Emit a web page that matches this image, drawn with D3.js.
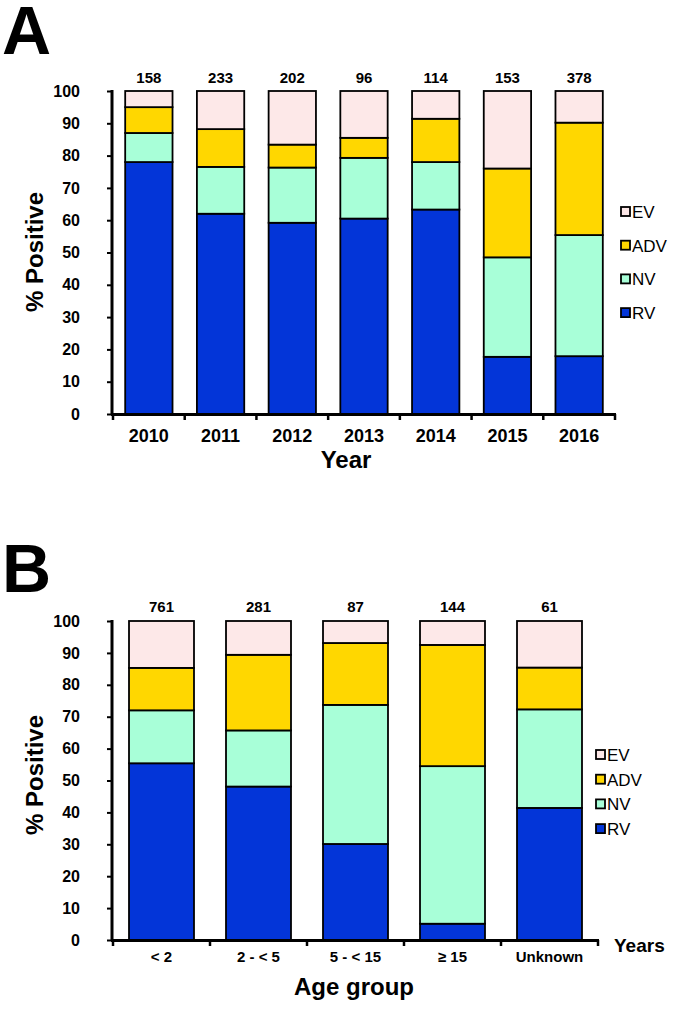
<!DOCTYPE html>
<html>
<head>
<meta charset="utf-8">
<script src="https://cdn.jsdelivr.net/npm/d3@7"></script>
<style>
  html, body { margin: 0; padding: 0; background: #fff; }
  svg { display: block; font-family: Arial, "Liberation Sans", sans-serif; }
</style>
</head>
<body>
<svg id="chart" width="675" height="1011"></svg>
<script>
// ---- Data ----
const seriesKeys = ["RV", "NV", "ADV", "EV"];
const seriesColors = ["#0335d8", "#a8ffd8", "#ffd700", "#fde8e8"];
const yTicks = [0, 10, 20, 30, 40, 50, 60, 70, 80, 90, 100];

// Panel A: by year
const yearsA = ["2010", "2011", "2012", "2013", "2014", "2015", "2016"];
const countsA = [158, 233, 202, 96, 114, 153, 378];
const rvA  = [78.0, 62.0, 59.2, 60.5, 63.3, 17.7, 17.9];
const nvA  = [ 9.0, 14.5, 17.1, 18.8, 14.7, 30.8, 37.5];
const advA = [ 8.0, 11.7,  7.1,  6.2, 13.4, 27.5, 34.8];
const evA  = [ 5.0, 11.8, 16.6, 14.5,  8.6, 24.0,  9.8];

// Panel B: by age group
const ageB = ["< 2", "2 - < 5", "5 - < 15", "\u2265 15", "Unknown"];
const countsB = [761, 281, 87, 144, 61];
const rvB  = [55.4, 48.1, 30.1,  5.1, 41.4];
const nvB  = [16.6, 17.6, 43.6, 49.4, 30.9];
const advB = [13.3, 23.7, 19.4, 38.0, 13.1];
const evB  = [14.7, 10.6,  6.9,  7.5, 14.6];

const svg = d3.select("#chart");

function drawPanel(cfg) {
  const rows = cfg.cats.map((c, i) => ({
    cat: c, RV: cfg.rv[i], NV: cfg.nv[i], ADV: cfg.adv[i], EV: cfg.ev[i]
  }));
  const stacked = d3.stack().keys(seriesKeys)(rows);
  const x = d3.scaleBand().domain(cfg.cats).range([cfg.x0, cfg.x1])
    .paddingInner(cfg.pad).paddingOuter(cfg.pad / 2);
  const y = d3.scaleLinear().domain([0, 100]).range([cfg.y0, cfg.y1]);
  const g = svg.append("g");

  // panel letter
  g.append("text").attr("x", cfg.letterX).attr("y", cfg.letterY)
    .attr("font-size", 68).attr("font-weight", "bold").text(cfg.letter);

  // bars
  stacked.forEach((layer, li) => {
    g.append("g").selectAll("rect").data(layer).join("rect")
      .attr("x", d => x(d.data.cat))
      .attr("width", x.bandwidth())
      .attr("y", d => y(d[1]))
      .attr("height", d => y(d[0]) - y(d[1]))
      .attr("fill", seriesColors[li])
      .attr("stroke", "#000")
      .attr("stroke-width", 1.8);
  });

  // y axis
  const yAxis = d3.axisLeft(y).tickValues(yTicks).tickSize(5).tickPadding(27);
  const ya = g.append("g").attr("transform", `translate(${cfg.x0 - 1},0)`).call(yAxis);
  ya.select(".domain").attr("stroke-width", 3).attr("d", `M0,${cfg.y1 - 1}V${cfg.y0 + 1}`);
  ya.selectAll(".tick line").attr("stroke-width", 2);
  ya.selectAll(".tick text").attr("font-size", 16).attr("font-weight", "bold")
    .attr("font-family", "Arial, 'Liberation Sans', sans-serif").attr("fill", "#000");

  // x axis line
  const step = x.step();
  const bounds = d3.range(cfg.cats.length + 1).map(i => cfg.x0 + i * step);
  g.append("line").attr("x1", cfg.x0 - 2).attr("x2", cfg.x1 + 1)
    .attr("y1", cfg.y0 + 0.5).attr("y2", cfg.y0 + 0.5)
    .attr("stroke", "#000").attr("stroke-width", 3);
  g.append("g").selectAll("line").data(bounds).join("line")
    .attr("x1", d => d).attr("x2", d => d)
    .attr("y1", cfg.y0).attr("y2", cfg.y0 + 6)
    .attr("stroke", "#000").attr("stroke-width", 2.5);

  // x labels
  g.append("g").selectAll("text").data(cfg.cats).join("text")
    .attr("x", d => x(d) + x.bandwidth() / 2).attr("y", cfg.xLabelY)
    .attr("text-anchor", "middle").attr("font-size", cfg.xLabelSize)
    .attr("font-weight", "bold").text(d => d);

  // counts
  g.append("g").selectAll("text").data(cfg.cats).join("text")
    .attr("x", d => x(d) + x.bandwidth() / 2).attr("y", cfg.countY)
    .attr("text-anchor", "middle").attr("font-size", 15)
    .attr("font-weight", "bold").text((d, i) => cfg.counts[i]);

  // axis titles
  g.append("text")
    .attr("transform", `translate(${cfg.yTitleX},${cfg.yTitleY}) rotate(-90)`)
    .attr("text-anchor", "middle").attr("font-size", 24).attr("font-weight", "bold")
    .text("% Positive");
  g.append("text").attr("x", cfg.xTitleX).attr("y", cfg.xTitleY)
    .attr("text-anchor", "middle").attr("font-size", 24).attr("font-weight", "bold")
    .text(cfg.xTitle);

  // legend (top to bottom: EV, ADV, NV, RV)
  const legOrder = [3, 2, 1, 0];
  const leg = g.append("g").selectAll("g").data(legOrder).join("g")
    .attr("transform", (d, i) => `translate(${cfg.legX},${cfg.legY + i * cfg.legStep})`);
  leg.append("rect").attr("x", 0).attr("y", -5).attr("width", 9).attr("height", 9)
    .attr("fill", d => seriesColors[d]).attr("stroke", "#000").attr("stroke-width", 1.8);
  leg.append("text").attr("x", 11).attr("y", 6).attr("font-size", 17)
    .text(d => seriesKeys[d]);

  if (cfg.extra) {
    g.append("text").attr("x", cfg.extra.x).attr("y", cfg.extra.y)
      .attr("font-size", 19).attr("font-weight", "bold").text(cfg.extra.text);
  }
}

drawPanel({
  letter: "A", letterX: 2, letterY: 54,
  cats: yearsA, counts: countsA, rv: rvA, nv: nvA, adv: advA, ev: evA,
  x0: 113, x1: 615, y0: 414, y1: 91, pad: 0.34,
  xLabelY: 442, xLabelSize: 18, countY: 83,
  yTitleX: 43, yTitleY: 252, xTitle: "Year", xTitleX: 346, xTitleY: 468,
  legX: 621, legY: 212, legStep: 33.7
});

drawPanel({
  letter: "B", letterX: 2, letterY: 592,
  cats: ageB, counts: countsB, rv: rvB, nv: nvB, adv: advB, ev: evB,
  x0: 113, x1: 598, y0: 940, y1: 621, pad: 0.33,
  xLabelY: 962, xLabelSize: 15, countY: 612,
  yTitleX: 43, yTitleY: 775, xTitle: "Age group", xTitleX: 354, xTitleY: 995,
  legX: 596, legY: 755, legStep: 24.7,
  extra: { x: 614, y: 952, text: "Years" }
});
</script>
</body>
</html>
